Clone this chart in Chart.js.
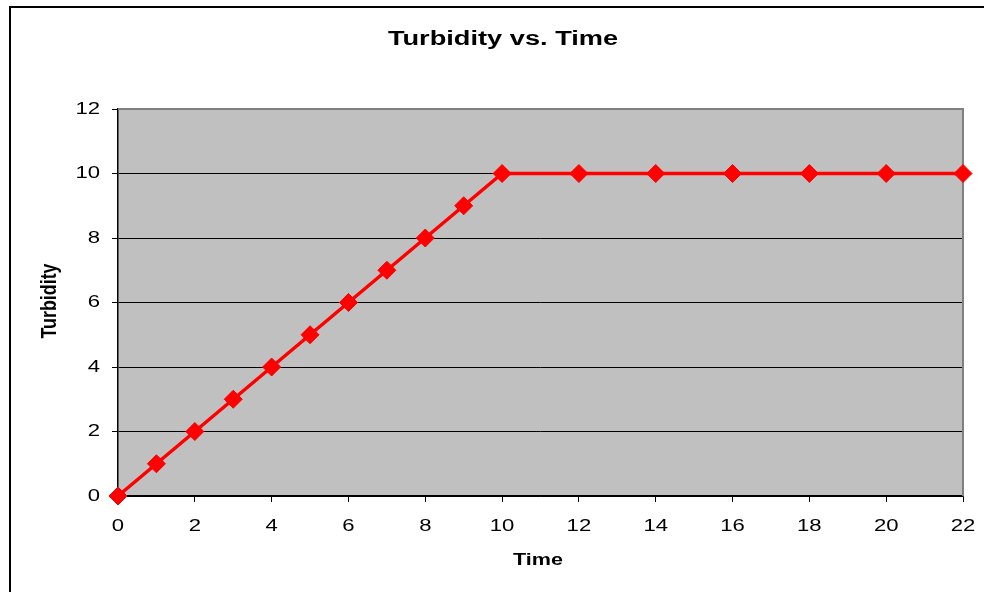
<!DOCTYPE html>
<html>
<head>
<meta charset="utf-8">
<script src="https://cdn.jsdelivr.net/npm/chart.js@4/dist/chart.umd.min.js"></script>
<style>
  html, body { margin: 0; padding: 0; background: #fff; }
  #wrap { width: 984px; height: 592px; position: relative; }
</style>
</head>
<body>
<div id="wrap"><canvas id="chart" width="984" height="592"></canvas></div>
<script>
// Sampling times and turbidity readings
const times = [0, 1, 2, 3, 4, 5, 6, 7, 8, 9, 10, 12, 14, 16, 18, 20, 22];
const turbidity = [0, 1, 2, 3, 4, 5, 6, 7, 8, 9, 10, 10, 10, 10, 10, 10, 10];

// Axis tick labels
const xTicks = [0, 2, 4, 6, 8, 10, 12, 14, 16, 18, 20, 22];
const yTicks = [0, 2, 4, 6, 8, 10, 12];

const chartTitle = 'Turbidity vs. Time';
const xTitle = 'Time';
const yTitle = 'Turbidity';

const FONT = '"Liberation Sans", Arial, sans-serif';
const WIDE = 1.3; // horizontal widening of all lettering

const points = times.map((t, i) => ({ x: t, y: turbidity[i] }));

// Text drawn with a horizontal stretch around its anchor point
function wideText(ctx, text, x, y, font, align, sx) {
  ctx.save();
  ctx.font = font;
  ctx.textAlign = align;
  ctx.textBaseline = 'middle';
  ctx.translate(x, y);
  ctx.scale(sx, 1);
  ctx.fillText(text, 0, 0);
  ctx.restore();
}

// Frame, plot background, tick labels and titles
const decor = {
  id: 'decor',
  beforeDraw(chart) {
    const { ctx, chartArea: a } = chart;
    ctx.save();
    ctx.fillStyle = '#ffffff';
    ctx.fillRect(0, 0, chart.width, chart.height);
    // outer frame
    ctx.strokeStyle = '#000000';
    ctx.lineWidth = 2;
    ctx.beginPath();
    ctx.moveTo(10, chart.height + 5);
    ctx.lineTo(10, 7);
    ctx.lineTo(chart.width + 5, 7);
    ctx.stroke();
    // plot background
    ctx.fillStyle = '#c0c0c0';
    ctx.fillRect(a.left, a.top, a.right - a.left, a.bottom - a.top);
    ctx.restore();
  },
  beforeDatasetsDraw(chart) {
    const { ctx, chartArea: a } = chart;
    ctx.save();
    ctx.strokeStyle = '#808080';
    ctx.lineWidth = 2;
    ctx.beginPath();
    ctx.moveTo(a.left, a.top);
    ctx.lineTo(a.right, a.top);
    ctx.lineTo(a.right, a.bottom);
    ctx.stroke();
    ctx.restore();
  },
  afterDraw(chart) {
    const { ctx, chartArea: a } = chart;
    const xs = chart.scales.x, ys = chart.scales.y;
    ctx.save();
    ctx.fillStyle = '#000000';
    const tickFont = '17px ' + FONT;
    xTicks.forEach(v => wideText(ctx, String(v), xs.getPixelForValue(v), 526, tickFont, 'center', WIDE));
    yTicks.forEach(v => wideText(ctx, String(v), 100, ys.getPixelForValue(v), tickFont, 'right', WIDE));
    wideText(ctx, chartTitle, 503, 39, 'bold 20px ' + FONT, 'center', 1.36);
    wideText(ctx, xTitle, 538, 560, 'bold 17px ' + FONT, 'center', 1.27);
    // vertical axis title
    ctx.save();
    ctx.font = 'bold 17px ' + FONT;
    ctx.textAlign = 'center';
    ctx.textBaseline = 'middle';
    ctx.translate(50, 301);
    ctx.scale(WIDE, 1);
    ctx.rotate(-Math.PI / 2);
    ctx.scale(1.05, 1);
    ctx.fillText(yTitle, 0, 0);
    ctx.restore();
    ctx.restore();
  }
};

new Chart(document.getElementById('chart'), {
  type: 'scatter',
  data: {
    datasets: [{
      label: yTitle,
      data: points,
      showLine: true,
      borderColor: '#ff0000',
      backgroundColor: '#ff0000',
      borderWidth: 3.5,
      pointStyle: 'rectRot',
      pointRadius: 9,
      pointHoverRadius: 9,
      pointBorderWidth: 1,
      pointBorderColor: '#ff0000',
      pointBackgroundColor: '#ff0000',
      clip: false,
      tension: 0
    }]
  },
  options: {
    responsive: false,
    animation: false,
    events: [],
    layout: { padding: { left: 0, top: 109, right: 21, bottom: 0 } },
    plugins: {
      legend: { display: false },
      title: { display: false },
      tooltip: { enabled: false }
    },
    scales: {
      x: {
        type: 'linear',
        min: 0,
        max: 22,
        afterFit(scale) { scale.height = 96; },
        border: { display: true, color: '#000000', width: 1.5 },
        grid: {
          display: true,
          drawOnChartArea: false,
          drawTicks: true,
          tickLength: 6,
          color: '#000000',
          lineWidth: 1
        },
        ticks: { stepSize: 2, display: false }
      },
      y: {
        type: 'linear',
        min: 0,
        max: 12,
        afterFit(scale) { scale.width = 118; },
        border: { display: true, color: '#000000', width: 1.5 },
        grid: {
          display: true,
          drawOnChartArea: true,
          drawTicks: true,
          tickLength: 6,
          color: '#000000',
          lineWidth: 1
        },
        ticks: { stepSize: 2, display: false }
      }
    }
  },
  plugins: [decor]
});
</script>
</body>
</html>
